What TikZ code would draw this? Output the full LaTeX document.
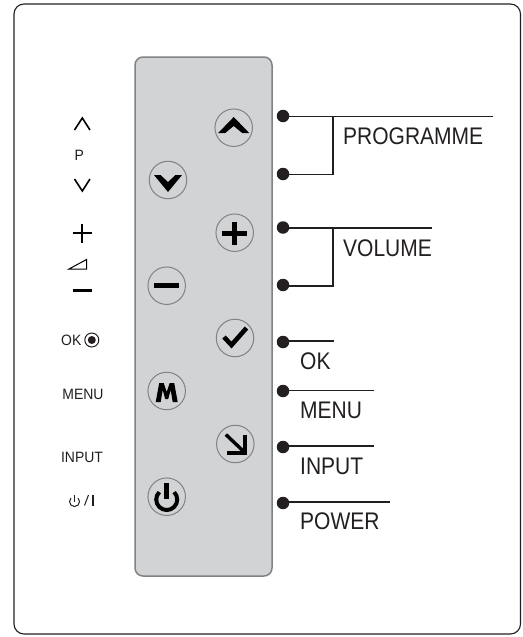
\documentclass[tikz,border=0pt]{standalone}
\usepackage{fontspec}
\setmainfont{Liberation Sans}
\newfontfamily\bigfam[FakeStretch=0.875]{Liberation Sans}
\newfontfamily\smallfam[FakeStretch=0.93]{Liberation Sans}
\definecolor{panelfill}{RGB}{209,211,212}
\definecolor{panelline}{RGB}{128,130,133}
\definecolor{ink}{RGB}{35,31,32}
\tikzset{
  outerbox/.style={draw=ink,line width=1.1pt,rounded corners=10pt,fill=white},
  panelbox/.style={draw=panelline,line width=1.5pt,rounded corners=8pt,fill=panelfill},
  btn/.style={circle,draw=panelline,line width=1pt,minimum size=37.5pt,inner sep=0pt,fill=panelfill},
  dotnode/.style={circle,fill=ink,draw=none,minimum size=12.5pt,inner sep=0pt},
  wire/.style={draw=ink,line width=1.1pt},
  biglabel/.style={anchor=west,inner sep=0pt,text=ink,font=\bigfam\fontsize{24}{24}\selectfont},
  smalllabel/.style={inner sep=0pt,text=ink,font=\smallfam\fontsize{15}{15}\selectfont},
  glyph/.style={draw=black,line width=4.2pt,line cap=butt,line join=miter},
  thinglyph/.style={draw=black,line width=1.6pt,line cap=butt},
}
\begin{document}
\begin{tikzpicture}[x=1pt,y=-1pt]
\useasboundingbox (0,0) rectangle (522,637);
\fill[white] (0,0) rectangle (522,637);
\draw[outerbox] (14,4) rectangle (520.5,634);
\draw[panelbox] (135,57) rectangle (272,576);
% buttons
\node[btn] (bup) at (233.7,127.7) {};
\node[btn] (bdown) at (168,180) {};
\node[btn] (bplus) at (234.7,232.7) {};
\node[btn] (bminus) at (166.7,285.7) {};
\node[btn] (bok) at (235,338) {};
\node[btn] (bmenu) at (166.7,391) {};
\node[btn] (binput) at (235.3,444) {};
\node[btn] (bpower) at (166.7,496.7) {};
% button glyphs
\fill[black] (bup.center) ++(-15.5,5.3) -- ++(15.5,-16) -- ++(15.5,16) -- ++(-7,0) -- ++(-8.5,-7) -- ++(-8.5,7) -- cycle;
\fill[black] (bdown.center) ++(-14,-5) -- ++(6.5,0) -- ++(7.5,7) -- ++(7.5,-7) -- ++(6.5,0) -- ++(-14,17) -- cycle;
\draw[glyph,line width=4.6pt] (bplus.center) ++(-12.5,0.8) -- ++(25,0);
\draw[glyph,line width=4.6pt] (bplus.center) ++(0,-11) -- ++(0,23.5);
\draw[glyph,line width=4.6pt] (bminus.center) ++(-12.5,0) -- ++(25,0);
\draw[glyph,line width=4.6pt] (bok.center) ++(-11,-1) -- ++(7.5,8) -- ++(15,-17);
\fill[black] (bmenu.center) ++(-11,11) -- ++(3.5,-19) -- ++(4.5,0) -- ++(3,9) -- ++(3,-9) -- ++(4.5,0) -- ++(3.5,19) -- ++(-5,0) -- ++(-2,-12) -- ++(-2.5,9) -- ++(-3,0) -- ++(-2.5,-9) -- ++(-2,12) -- cycle;
\draw[glyph,line width=3.4pt] (binput.center) ++(-9.5,-9.5) -- ++(19,18);
\draw[glyph,line width=3.8pt] (binput.center) ++(9.5,-9.5) -- ++(0,18.5) -- ++(-18,0);
\draw[glyph,line width=4pt] (bpower.center) ++(-7.4,-4.6) arc[start angle=225,end angle=-45,radius=10.5];
\draw[glyph,line width=4.8pt] (bpower.center) ++(0,-13.7) -- ++(0,16);
% dots
\node[dotnode] (d1) at (283,116) {};
\node[dotnode] (d2) at (283,174) {};
\node[dotnode] (d3) at (283,227.5) {};
\node[dotnode] (d4) at (283,285) {};
\node[dotnode] (d5) at (283,342) {};
\node[dotnode] (d6) at (283,391) {};
\node[dotnode] (d7) at (283,447) {};
\node[dotnode] (d8) at (283,503) {};
% line ends
\coordinate (e1) at (493,116.5);
\coordinate (j1) at (333,116.5);
\coordinate (c2) at (333,174.8);
\coordinate (e3) at (432,228);
\coordinate (j3) at (333,228);
\coordinate (c4) at (333,286);
\coordinate (e5) at (334,341);
\coordinate (e6) at (374,390.5);
\coordinate (e7) at (374,446);
\coordinate (e8) at (390,502);
\draw[wire] (d1.center) ++(0,0.5) -- (e1);
\draw[wire] (d2.center) ++(0,0.8) -- (c2) -- (j1);
\draw[wire] (d3.center) ++(0,0.5) -- (e3);
\draw[wire] (d4.center) ++(0,1) -- (c4) -- (j3);
\draw[wire] (d5.center) ++(0,-1) -- (e5);
\draw[wire] (d6.center) ++(0,-0.5) -- (e6);
\draw[wire] (d7.center) ++(0,-1) -- (e7);
\draw[wire] (d8.center) ++(0,-1) -- (e8);
% right labels
\node[biglabel] (lprog) at (343,136) {PROGRAMME};
\node[biglabel] (lvol) at (343,248) {VOLUME};
\node[biglabel] (lok) at (300,361) {OK};
\node[biglabel] (lmenu) at (300,410) {MENU};
\node[biglabel] (linput) at (300,466) {INPUT};
\node[biglabel] (lpower) at (300,521) {POWER};
% left symbols
\draw[thinglyph] (74.5,130) -- (82.3,118) -- (90,130);
\node[smalllabel] (lp) at (79.3,155) {P};
\draw[thinglyph] (74.5,179) -- (82.3,191) -- (90,179);
\draw[thinglyph,line width=2.2pt] (72.7,233.3) -- (92,233.3);
\draw[thinglyph,line width=2.2pt] (82.3,224) -- (82.3,243);
\draw[thinglyph,line width=1pt] (69,269) -- (86.5,259.5) -- (86.5,269) -- cycle;
\draw[thinglyph,line width=2.4pt] (72.7,290.3) -- (92,290.3);
\node[smalllabel,anchor=west] (lsok) at (61,340) {OK};
\node[draw=ink,line width=1pt,circle,minimum size=14pt,inner sep=0pt] (okring) at (91.8,340) {};
\fill[ink] (okring.center) circle[radius=4];
\node[smalllabel] (lsmenu) at (83,394) {MENU};
\node[smalllabel] (lsinput) at (82,457) {INPUT};
\draw[ink,line width=1pt] (71,498) arc[start angle=225,end angle=-45,radius=5];
\draw[ink,line width=1pt] (74.5,495) -- (74.5,501.5);
\draw[ink,line width=1pt] (84.5,505.5) -- (88.5,495);
\draw[ink,line width=2.2pt] (93.3,494.5) -- (93.3,505.5);
\end{tikzpicture}
\end{document}
